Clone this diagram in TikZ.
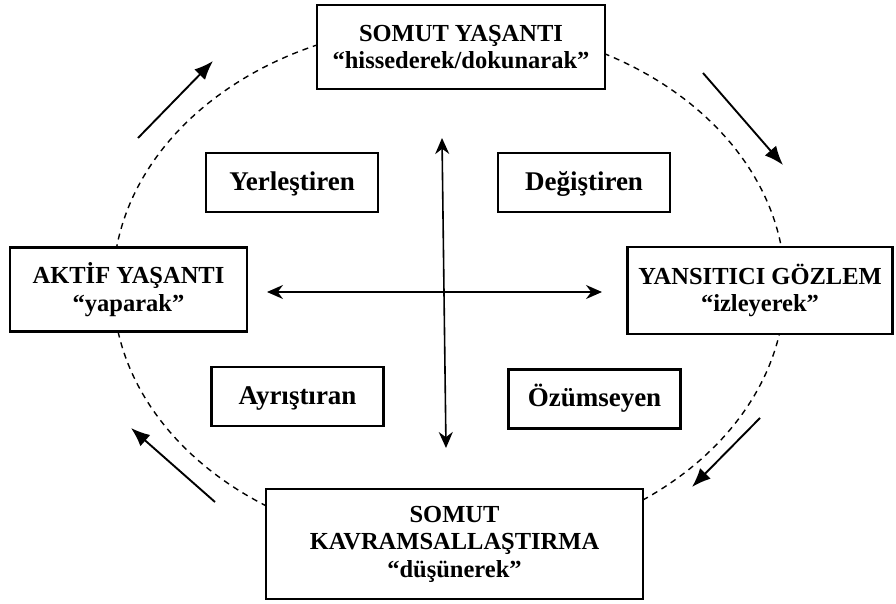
\documentclass[tikz,border=0pt]{standalone}
\usepackage{fontspec}
\setmainfont{Liberation Serif}
\usetikzlibrary{arrows.meta}
\begin{document}
\begin{tikzpicture}[x=1pt,y=-1pt,
  bigbox/.style={draw,line width=2.2pt,fill=white,align=center,inner sep=0pt,
    font=\fontsize{24.5}{27.5}\selectfont\bfseries},
  stylebox/.style={draw,line width=2.2pt,fill=white,minimum width=172pt,minimum height=59pt,
    inner sep=0pt,text height=20pt,text depth=5pt,font=\fontsize{27}{30}\selectfont\bfseries},
  cycarrow/.style={-{Latex[length=19pt,width=15pt]},line width=1.9pt},
  axis/.style={{Stealth[length=16pt,width=14pt]}-{Stealth[length=16pt,width=14pt]},line width=1.6pt}]
  \useasboundingbox (0,0) rectangle (896,604);
  % Cycle
  \draw[dash pattern=on 6pt off 5pt,line width=1.4pt] (449,286) ellipse [x radius=336,y radius=262];
  % Axes
  \coordinate (axtop) at (442,138);
  \coordinate (axbottom) at (446,448);
  \coordinate (axleft) at (267,292);
  \coordinate (axright) at (602,292);
  \draw[axis] (axtop) -- (axbottom);
  \draw[axis] (axleft) -- (axright);
  % Stages
  \node[bigbox,minimum width=288pt,minimum height=84pt] (somut) at (461,47)
    {SOMUT YAŞANTI\\“hissederek/dokunarak”};
  \node[bigbox,minimum width=237pt,minimum height=84pt] (aktif) at (128.5,289.5)
    {AKTİF YAŞANTI\\“yaparak”};
  \node[bigbox,minimum width=265pt,minimum height=87pt] (yansitici) at (760,290.5)
    {YANSITICI GÖZLEM\\“izleyerek”};
  \node[bigbox,minimum width=377pt,minimum height=110pt] (kavram) at (454.5,544)
    {SOMUT\\KAVRAMSALLAŞTIRMA\\“düşünerek”};
  % Styles
  \node[stylebox] (yerlestiren) at (292,182.5) {Yerleştiren};
  \node[stylebox] (degistiren) at (584,182.5) {Değiştiren};
  \node[stylebox] (ayristiran) at (297.5,396.5) {Ayrıştıran};
  \node[stylebox] (ozumseyen) at (594.5,399) {Özümseyen};
  % Arrows
  \coordinate (tl1) at (138,138); \coordinate (tl2) at (213,61);
  \coordinate (tr1) at (703,73);  \coordinate (tr2) at (783,165);
  \coordinate (br1) at (760,418); \coordinate (br2) at (692,487);
  \coordinate (bl1) at (215,502); \coordinate (bl2) at (131,428);
  \draw[cycarrow] (tl1) -- (tl2);
  \draw[cycarrow] (tr1) -- (tr2);
  \draw[cycarrow] (br1) -- (br2);
  \draw[cycarrow] (bl1) -- (bl2);
\end{tikzpicture}
\end{document}
